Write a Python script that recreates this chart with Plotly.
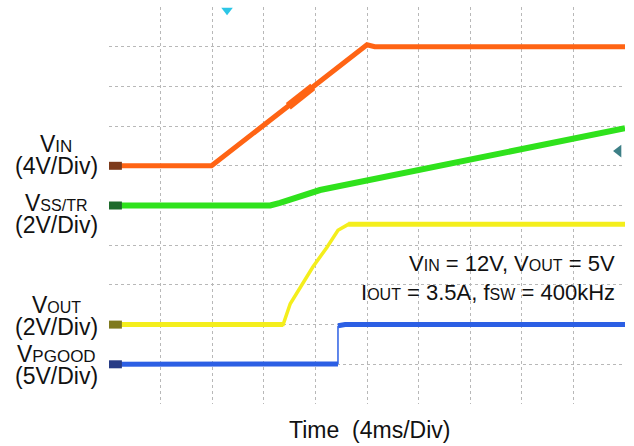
import plotly.graph_objects as go

# time in ms (4 ms/div, 10 div), channel voltages in V
t_vin = [0, 7.95, 20.0, 20.6, 40]
v_vin = [0, 0, 12.2, 12.0, 12.0]
t_vin_noise = [13.9, 15.8]
v_vin_noise = [6.0, 7.95]

t_ss = [0, 12.5, 13.26, 14.19, 15.19, 16.36, 40]
v_ss = [0, 0, 0.13, 0.33, 0.55, 0.78, 3.9]

t_vout = [0, 13.5, 14.05, 14.95, 15.8, 16.9, 17.75, 18.55, 40]
v_vout = [0, 0, 1.05, 2.0, 2.9, 3.9, 4.75, 5.05, 5.05]

t_pg_low = [0, 8.5, 13.0, 17.75]
v_pg_low = [0, 0.1, 0.1, 0.05]
t_pg_high = [17.75, 18.3, 40]
v_pg_high = [4.85, 5.0, 5.0]

# channel settings: (offset in div, volts per div)
CH_VIN = (6, 4)
CH_SS = (5, 2)
CH_VOUT = (2, 2)
CH_PG = (1, 5)

trig_time = 9.15      # ms
trig_level = 6.37     # div

# plot area in pixels
L, R, T, B = 109, 9, 7, 42
W, H = 634, 446
PW, PH = W - L - R, H - T - B

FONT = "Liberation Sans, Arial, sans-serif"


def to_div(v, ch):
    off, scale = ch
    return [off + x / scale for x in v]


def px_x(x):
    return (x - L) / PW


def px_y(y):
    return (H - B - y) / PH


def sub(main, s, size=16):
    return f"{main}<span style='font-size:{size}px'>{s}</span>"


fig = go.Figure()

def add_line(t, v, ch, color, width):
    fig.add_trace(go.Scatter(x=t, y=to_div(v, ch), mode="lines",
                             line=dict(color=color, width=width),
                             hoverinfo="skip", showlegend=False))

ORANGE = "#ff6414"
GREEN = "#2fe21c"
YELLOW = "#f4ee1c"
BLUE = "#2c5fe4"

add_line(t_vin, v_vin, CH_VIN, ORANGE, 5)
add_line(t_vin_noise, v_vin_noise, CH_VIN, ORANGE, 8)
add_line(t_ss, v_ss, CH_SS, GREEN, 6)
add_line(t_vout, v_vout, CH_VOUT, YELLOW, 3.5)
add_line(t_vout[:2], v_vout[:2], CH_VOUT, YELLOW, 5)
add_line(t_vout[-2:], v_vout[-2:], CH_VOUT, YELLOW, 5)
add_line([t_pg_low[-1], t_pg_high[0]], [v_pg_low[-1], v_pg_high[0]], CH_PG, BLUE, 1.5)
add_line(t_pg_low, v_pg_low, CH_PG, BLUE, 5)
add_line(t_pg_high, v_pg_high, CH_PG, BLUE, 5)

# channel ground markers at left edge
for ch, col in [(CH_VIN, "#7d3b1c"), (CH_SS, "#1e6b2c"), (CH_VOUT, "#7f7a1e"), (CH_PG, "#273c86")]:
    fig.add_trace(go.Scatter(x=[0, 1.0], y=[ch[0], ch[0]], mode="lines",
                             line=dict(color=col, width=8), cliponaxis=False,
                             hoverinfo="skip", showlegend=False))

# trigger markers
fig.add_trace(go.Scatter(x=[trig_time], y=[9.92], mode="markers", cliponaxis=False,
                         marker=dict(symbol="triangle-down", size=10, color="#2cc6e6"),
                         hoverinfo="skip", showlegend=False))
fig.add_trace(go.Scatter(x=[39.5], y=[trig_level], mode="markers", cliponaxis=False,
                         marker=dict(symbol="triangle-left", size=11, color="#3d7f86"),
                         hoverinfo="skip", showlegend=False))

ann = []
left_labels = [
    (sub("V", "IN", 17), 143.5), ("(4V/Div)", 166),
    (sub("V", "SS/TR", 16), 203.5), ("(2V/Div)", 225),
    (sub("V", "OUT", 16), 305), ("(2V/Div)", 326.5),
    (sub("V", "PGOOD", 17), 353.5), ("(5V/Div)", 375.5),
]
for txt, yy in left_labels:
    ann.append(dict(text=txt, x=px_x(56), y=px_y(yy), xref="paper", yref="paper",
                    xanchor="center", yanchor="middle", showarrow=False,
                    font=dict(size=23, color="#111111", family=FONT)))

ann.append(dict(text=sub("V", "IN") + " = 12V, " + sub("V", "OUT") + " = 5V",
                x=px_x(617), y=px_y(263), xref="paper", yref="paper",
                xanchor="right", yanchor="middle", showarrow=False,
                font=dict(size=22, color="#111111", family=FONT)))
ann.append(dict(text=sub("I", "OUT") + " = 3.5A, " + sub("f", "SW") + " = 400kHz",
                x=px_x(617), y=px_y(292.5), xref="paper", yref="paper",
                xanchor="right", yanchor="middle", showarrow=False,
                font=dict(size=22, color="#111111", family=FONT)))
ann.append(dict(text="Time&nbsp;&nbsp;(4ms/Div)", x=px_x(369.5), y=px_y(430),
                xref="paper", yref="paper", xanchor="center", yanchor="middle",
                showarrow=False, font=dict(size=23, color="#111111", family=FONT)))

grid = dict(showticklabels=False, showline=False, zeroline=False, ticks="",
            showgrid=True, gridcolor="#b8b8b8", gridwidth=1, griddash="dot")

fig.update_layout(
    width=W, height=H,
    margin=dict(l=L, r=R, t=T, b=B, pad=0),
    paper_bgcolor="white", plot_bgcolor="white",
    xaxis=dict(range=[0, 40], tickvals=list(range(4, 40, 4)), **grid),
    yaxis=dict(range=[0, 10], tickvals=list(range(1, 10)), **grid),
    annotations=ann,
)

# page body has a default 8px margin; remove it so the figure fills the window
fig.write_html("out.html", config={"displayModeBar": False},
               post_script="document.body.style.margin='0';")
